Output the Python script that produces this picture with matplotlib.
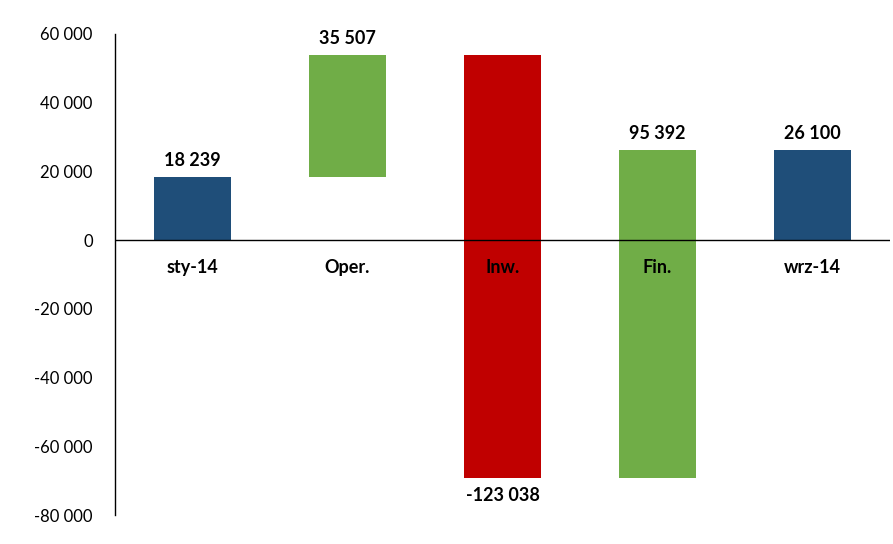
import matplotlib
matplotlib.use('Agg')
import matplotlib.pyplot as plt
from matplotlib.ticker import FuncFormatter

categories = ['sty-14', 'Oper.', 'Inw.', 'Fin.', 'wrz-14']
changes = [18239, 35507, -123038, 95392, 26100]
kinds = ['total', 'delta', 'delta', 'delta', 'total']
colors = ['#1F4E79', '#70AD47', '#C00000', '#70AD47', '#1F4E79']

plt.rcParams['font.family'] = ['Lato', 'DejaVu Sans']

fig = plt.figure(figsize=(8.93, 5.44), dpi=100)
ax = fig.add_axes([115 / 893, 1 - 515 / 544, 775 / 893, 481 / 544])

def fmt(v):
    s = f'{abs(int(v)):,}'.replace(',', ' ')
    return ('-' if v < 0 else '') + s

running = 0
for i, (cat, ch, kind, col) in enumerate(zip(categories, changes, kinds, colors)):
    if kind == 'total':
        bottom, top = 0, ch
        running = ch
    else:
        bottom = running
        running = running + ch
        top = running
    lo, hi = min(bottom, top), max(bottom, top)
    ax.bar(i, hi - lo, bottom=lo, width=0.5, color=col, zorder=2)
    if ch >= 0:
        ax.text(i, hi + 2500, fmt(ch), ha='center', va='bottom',
                fontsize=13, fontweight='bold', zorder=4)
    else:
        ax.text(i, lo - 2500, fmt(ch), ha='center', va='top',
                fontsize=13, fontweight='bold', zorder=4)
    ax.text(i, -5500, cat, ha='center', va='top', fontsize=13,
            fontweight='bold', zorder=4)

ax.axhline(0, color='black', linewidth=1, zorder=3)
ax.set_xlim(-0.5, 4.5)
ax.set_ylim(-80000, 60000)
ax.set_yticks(range(-80000, 60001, 20000))
ax.yaxis.set_major_formatter(FuncFormatter(lambda v, p: fmt(v)))
ax.tick_params(axis='y', length=0, pad=16, labelsize=12)
ax.set_xticks([])
for s in ['top', 'right', 'bottom']:
    ax.spines[s].set_visible(False)
ax.spines['left'].set_linewidth(1)

fig.savefig('out.png', dpi=100)
